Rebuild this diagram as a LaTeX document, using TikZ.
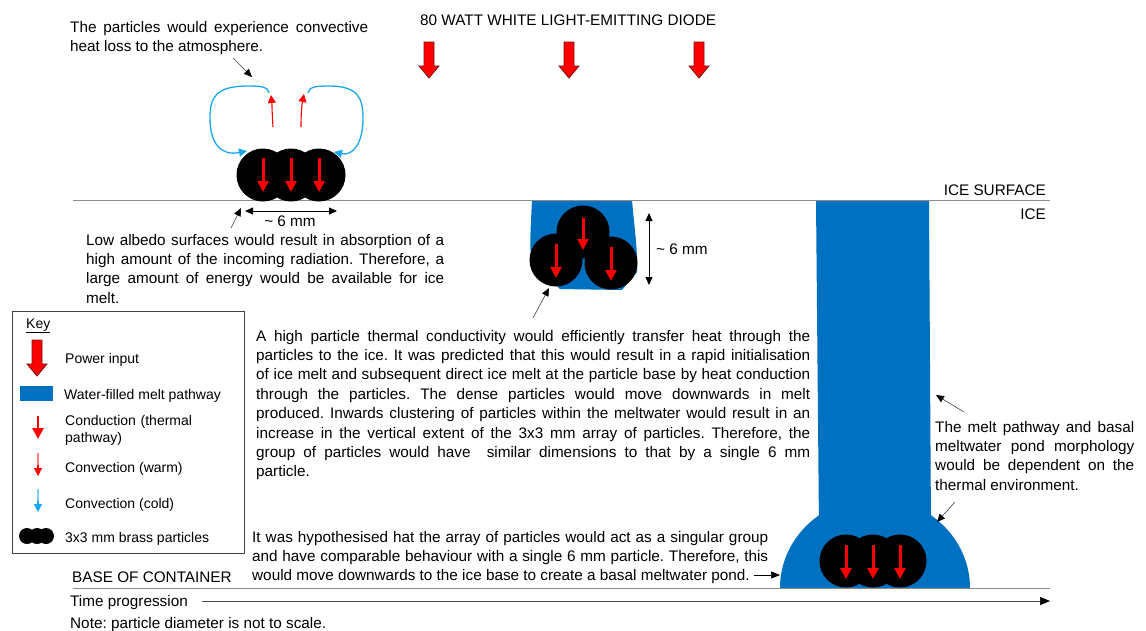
\documentclass[tikz,border=0pt]{standalone}
\usepackage{fontspec}
\setmainfont{Liberation Sans}
\usetikzlibrary{arrows.meta,calc}
\definecolor{meltblue}{HTML}{0070C0}
\definecolor{coldblue}{HTML}{1AA7EC}
\definecolor{heatred}{HTML}{FF0000}
\definecolor{arrowrim}{HTML}{7A1010}
\definecolor{rulegray}{HTML}{8C8C8C}
\definecolor{inkgray}{HTML}{404040}

\tikzset{
  body/.style={font=\fontsize{15.3}{19.4}\selectfont\frenchspacing, inner sep=0pt, anchor=base west},
  para/.style={body, align=justify, text width=#1},
  keytxt/.style={font=\fontsize{14}{17}\selectfont, inner sep=0pt, anchor=base west},
  particle/.style={circle, fill=black, minimum size=#1, inner sep=0pt},
  particle/.default=53pt,
  cond/.style={heatred, line width=3pt, -{Triangle[width=11pt,length=11pt]}},
  warm/.style={heatred, line width=1.1pt, -{Triangle[width=8pt,length=8pt]}},
  cold/.style={coldblue, line width=1.3pt, -{Triangle[width=8pt,length=8pt]}},
  note/.style={inkgray, line width=0.6pt, -{Triangle[width=7pt,length=8pt,color=black]}},
  dim/.style={black, line width=0.8pt, {Triangle[width=7pt,length=8pt]}-{Triangle[width=7pt,length=8pt]}},
  rule/.style={rulegray, line width=1pt},
  pics/powerarrow/.style={code={
    \draw[fill=heatred, draw=arrowrim, line width=0.8pt, line join=miter]
      (-5,0) -- (5,0) -- (5,24) -- (10,24) -- (0,36) -- (-10,24) -- (-5,24) -- cycle;}}
}

\begin{document}
\begin{tikzpicture}[x=1pt,y=-1pt]
\useasboundingbox (0,0) rectangle (1146,630);

% melt pathways
\fill[meltblue] (532,200) -- (632,200) .. controls (634,225) and (638,250) .. (637,272)
  -- (622,290) -- (560,289) -- (531,262) .. controls (530,240) .. (532,200) -- cycle;
\fill[meltblue] (816,200) -- (929,200) -- (931,530) -- (819,530) -- cycle;
\fill[meltblue] (780,588) arc[start angle=180, end angle=360, x radius=95, y radius=90] -- cycle;

% ice surface and container base
\coordinate (surfL) at (73,200);
\coordinate (surfR) at (1050,200);
\draw[rule] (surfL) -- (surfR);
\coordinate (baseL) at (73,588);
\coordinate (baseR) at (1050,588);
\draw[rule] (baseL) -- (baseR);

% headings
\node[body] (led) at (420,25) {80 WATT WHITE LIGHT-EMITTING DIODE};
\node[body, anchor=base east] (icesurf) at (1046,195) {ICE SURFACE};
\node[body, anchor=base east] (ice) at (1046,219) {ICE};
\node[body] (basetxt) at (72,582) {BASE OF CONTAINER};
\node[body] (timetxt) at (70,606) {Time progression};
\node[body] (scalenote) at (70,628) {Note: particle diameter is not to scale.};
\coordinate (timeend) at (1050,601);
\draw[black!70, line width=0.7pt, -{Triangle[width=8pt,length=10pt,color=black]}] ([xshift=14pt]timetxt.east |- timeend) -- (timeend);

% power input
\pic at (429,42) {powerarrow};
\pic at (569,42) {powerarrow};
\pic at (699,42) {powerarrow};

% convection loops above the surface particles
\draw[cold] (269,93) .. controls (268,87) and (262,86) .. (248,86)
  .. controls (215,86) and (210,98) .. (210,118)
  .. controls (210,145) and (222,156) .. (247,151);
\draw[cold] (308,93) .. controls (309,87) and (315,86) .. (329,86)
  .. controls (358,86) and (363,98) .. (363,118)
  .. controls (363,145) and (352,156) .. (334,152);
\draw[warm] (273,127) .. controls (272,112) and (272,104) .. (271,95);
\draw[warm] (301,127) .. controls (301,112) and (302,104) .. (304,94);

% particles on the surface
\node[particle] (s1) at (263,175) {};
\node[particle] (s2) at (291,175) {};
\node[particle] (s3) at (319,175) {};
\foreach \p in {s1,s2,s3}
  \draw[cond] ($(\p)+(0,-17)$) -- ($(\p)+(0,17)$);

% particles in the shallow melt pathway
\node[particle] (m1) at (583,232) {};
\node[particle] (m2) at (556,260) {};
\node[particle] (m3) at (611,263) {};
\draw[cond] ($(m1)+(0,-14)$) -- ($(m1)+(0,18)$);
\draw[cond] ($(m2)+(0,-16)$) -- ($(m2)+(0,18)$);
\draw[cond] ($(m3)+(0,-16)$) -- ($(m3)+(0,18)$);

% particles in the basal pond
\node[particle] (p1) at (846,561) {};
\node[particle] (p2) at (873,561) {};
\node[particle] (p3) at (900,561) {};
\foreach \p in {p1,p2,p3}
  \draw[cond] ($(\p)+(0,-16)$) -- ($(\p)+(0,18)$);

% dimensions
\coordinate (wL) at (245,211);
\coordinate (wR) at (337,211);
\draw[dim] (wL) -- (wR);
\node[body, anchor=base] (wtxt) at (290,226) {\textasciitilde\ 6 mm};
\coordinate (hT) at (649,213);
\coordinate (hB) at (649,285);
\draw[dim] (hT) -- (hB);
\node[body] (htxt) at (656,254) {\textasciitilde\ 6 mm};

% annotations
\node[para=298pt] (convtxt) at (70,32)
  {The particles would experience convective\linebreak heat loss to the atmosphere.};
\coordinate (convfrom) at (233,58);
\coordinate (convto) at (252,77);
\draw[note] (convfrom) -- (convto);

\node[para=358pt] (albedo) at (86,245)
  {Low albedo surfaces would result in absorption of a\linebreak
   high amount of the incoming radiation. Therefore, a\linebreak
   large amount of energy would be available for ice\linebreak melt.};
\coordinate (albfrom) at (231,228);
\coordinate (albto) at (241,208);
\draw[note] (albfrom) -- (albto);

\node[para=554pt] (conduct) at (256,341)
  {A high particle thermal conductivity would efficiently transfer heat through the\linebreak
   particles to the ice. It was predicted that this would result in a rapid initialisation\linebreak
   of ice melt and subsequent direct ice melt at the particle base by heat conduction\linebreak
   through the particles. The dense particles would move downwards in melt\linebreak
   produced. Inwards clustering of particles within the meltwater would result in an\linebreak
   increase in the vertical extent of the 3x3 mm array of particles. Therefore, the\linebreak
   group of particles would have\ \ similar dimensions to that by a single 6 mm\linebreak
   particle.};
\coordinate (condfrom) at (533,318);
\coordinate (condto) at (549,288);
\draw[note] (condfrom) -- (condto);

\node[para=199pt] (morph) at (935,432)
  {The melt pathway and basal\linebreak meltwater pond morphology\linebreak
   would be dependent on the\linebreak thermal environment.};
\coordinate (morphfrom) at (964,412);
\coordinate (morphto) at (936,395);
\draw[note] (morphfrom) -- (morphto);
\coordinate (morphfrom2) at (955,502);
\coordinate (morphto2) at (937,522);
\draw[note] (morphfrom2) -- (morphto2);

\node[para=516pt] (hypo) at (252,542)
  {It was hypothesised hat the array of particles would act as a singular group\linebreak
   and have comparable behaviour with a single 6 mm particle. Therefore, this\linebreak
   would move downwards to the ice base to create a basal meltwater pond.};
\coordinate (pondfrom) at (754,575);
\coordinate (pondto) at (780,575);
\draw[black, line width=0.6pt, -{Triangle[width=7pt,length=9pt]}] (pondfrom) -- (pondto);

% key
\node[draw=inkgray, line width=1.2pt, minimum width=232pt, minimum height=242pt, anchor=north west, inner sep=0pt] (keybox) at (12,311) {};
\node[keytxt] (keyhead) at (26,328) {\underline{Key}};
\pic at (37,340) {powerarrow};
\node[keytxt] (kpower) at (65,363) {Power input};
\fill[meltblue] (20,386) rectangle (53,401);
\node[keytxt] (kmelt) at (64,399) {Water-filled melt pathway};
\coordinate (kc1) at (38,416);
\coordinate (kc2) at (38,439);
\draw[cond, line width=2.6pt] (kc1) -- (kc2);
\node[keytxt, text width=170pt, align=left] (kcond) at (65,425) {Conduction (thermal\\pathway)};
\coordinate (kw1) at (38,453);
\coordinate (kw2) at (38,476);
\draw[heatred!50, line width=1.1pt] (kw1) -- ($(kw1)!0.6!(kw2)$);
\draw[warm] ($(kw1)!0.5!(kw2)$) -- (kw2);
\node[keytxt] (kwarm) at (65,472) {Convection (warm)};
\coordinate (kb1) at (38,489);
\coordinate (kb2) at (38,512);
\draw[coldblue!55, line width=1.1pt] (kb1) -- ($(kb1)!0.6!(kb2)$);
\draw[cold, line width=1.1pt] ($(kb1)!0.5!(kb2)$) -- (kb2);
\node[keytxt] (kcold) at (65,508) {Convection (cold)};
\node[particle=16pt] (k1) at (27,536) {};
\node[particle=16pt] (k2) at (37,536) {};
\node[particle=16pt] (k3) at (46,536) {};
\node[keytxt] (kbrass) at (65,542) {3x3 mm brass particles};
\end{tikzpicture}
\end{document}
